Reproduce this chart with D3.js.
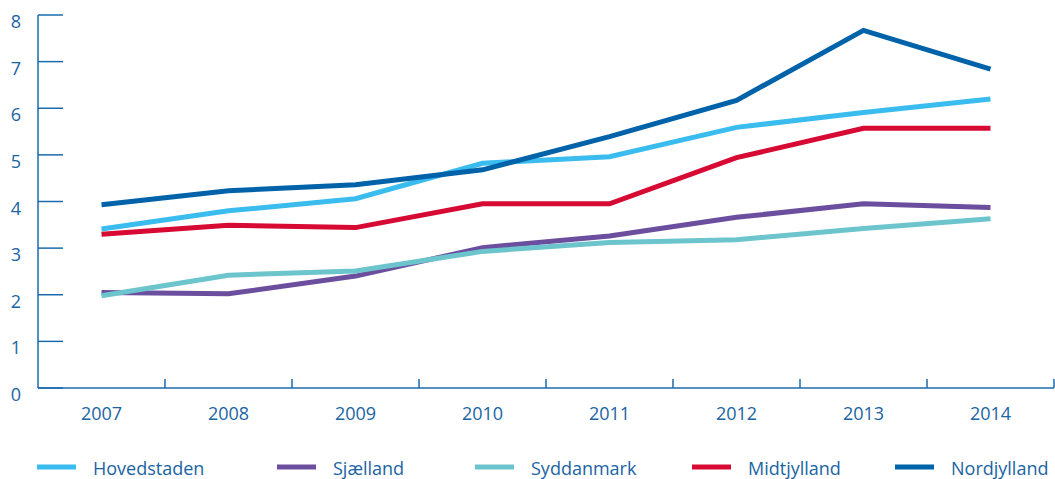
<html>
<script src="https://d3js.org/d3.v7.min.js"></script>
<style>
body { margin: 0; background: #fff; }
text { font-family: "Open Sans", sans-serif; fill: #1a64a3; }
</style>
<body>
<svg width="1055" height="479"></svg>
<script>
// data
var years = ["2007", "2008", "2009", "2010", "2011", "2012", "2013", "2014"];
var hovedstaden = [3.41, 3.80, 4.06, 4.82, 4.96, 5.59, 5.91, 6.20];
var sjaelland   = [2.05, 2.02, 2.40, 3.01, 3.26, 3.66, 3.95, 3.87];
var syddanmark  = [1.98, 2.42, 2.51, 2.93, 3.12, 3.18, 3.42, 3.63];
var midtjylland = [3.30, 3.49, 3.44, 3.95, 3.95, 4.94, 5.57, 5.57];
var nordjylland = [3.93, 4.23, 4.36, 4.68, 5.39, 6.17, 7.67, 6.84];
var yTicks = [0, 1, 2, 3, 4, 5, 6, 7, 8];

var series = [
  { name: "Hovedstaden", values: hovedstaden, color: "#3bbcee" },
  { name: "Sjælland", values: sjaelland, color: "#6b4f9e" },
  { name: "Syddanmark", values: syddanmark, color: "#6cc5cc" },
  { name: "Midtjylland", values: midtjylland, color: "#d60a33" },
  { name: "Nordjylland", values: nordjylland, color: "#0063a9" }
];
// drawing order (last on top)
var drawOrder = ["Sjælland", "Syddanmark", "Hovedstaden", "Midtjylland", "Nordjylland"];

var axisColor = "#1a6aad";
var svg = d3.select("svg");

var x = d3.scaleBand().domain(years).range([38, 1054]);
var y = d3.scaleLinear().domain([0, 8]).range([388, 15]);

// y axis line + ticks pointing right
svg.append("line")
  .attr("x1", 38).attr("x2", 38)
  .attr("y1", y(8)).attr("y2", y(0))
  .attr("stroke", axisColor).attr("stroke-width", 1.5);
svg.selectAll(".ytick").data(yTicks).enter().append("line")
  .attr("x1", 38).attr("x2", 63)
  .attr("y1", function (d) { return y(d); })
  .attr("y2", function (d) { return y(d); })
  .attr("stroke", axisColor).attr("stroke-width", 1.5);
svg.selectAll(".ylab").data(yTicks).enter().append("text")
  .attr("x", 16)
  .attr("y", function (d) { return y(d) + 13; })
  .attr("text-anchor", "middle")
  .style("font-size", "18px")
  .text(function (d) { return d; });

// x axis line + ticks between categories pointing up
svg.append("line")
  .attr("x1", 38).attr("x2", 1054)
  .attr("y1", y(0)).attr("y2", y(0))
  .attr("stroke", axisColor).attr("stroke-width", 1.5);
svg.selectAll(".xtick").data(years.slice(1).concat(["end"])).enter().append("line")
  .attr("x1", function (d, i) { return x(years[0]) + x.bandwidth() * (i + 1); })
  .attr("x2", function (d, i) { return x(years[0]) + x.bandwidth() * (i + 1); })
  .attr("y1", y(0)).attr("y2", y(0) - 9)
  .attr("stroke", axisColor).attr("stroke-width", 1.5);
svg.selectAll(".xlab").data(years).enter().append("text")
  .attr("x", function (d) { return x(d) + x.bandwidth() / 2; })
  .attr("y", 420)
  .attr("text-anchor", "middle")
  .style("font-size", "18px")
  .text(function (d) { return d; });

// lines
var line = d3.line()
  .x(function (d, i) { return x(years[i]) + x.bandwidth() / 2; })
  .y(function (d) { return y(d); });

drawOrder.forEach(function (n) {
  var s = series.find(function (t) { return t.name === n; });
  svg.append("path")
    .attr("d", line(s.values))
    .attr("fill", "none")
    .attr("stroke", s.color)
    .attr("stroke-width", 5);
});

// legend
var legendX = [37, 277, 475, 692, 895];
var legend = svg.selectAll(".leg").data(series).enter().append("g")
  .attr("transform", function (d, i) { return "translate(" + legendX[i] + ",467)"; });
legend.append("line")
  .attr("x1", 0).attr("x2", 39).attr("y1", 0).attr("y2", 0)
  .attr("stroke", function (d) { return d.color; })
  .attr("stroke-width", 5);
legend.append("text")
  .attr("x", 56).attr("y", 8)
  .style("font-size", "18px")
  .text(function (d) { return d.name; });
</script>
</body>
</html>
